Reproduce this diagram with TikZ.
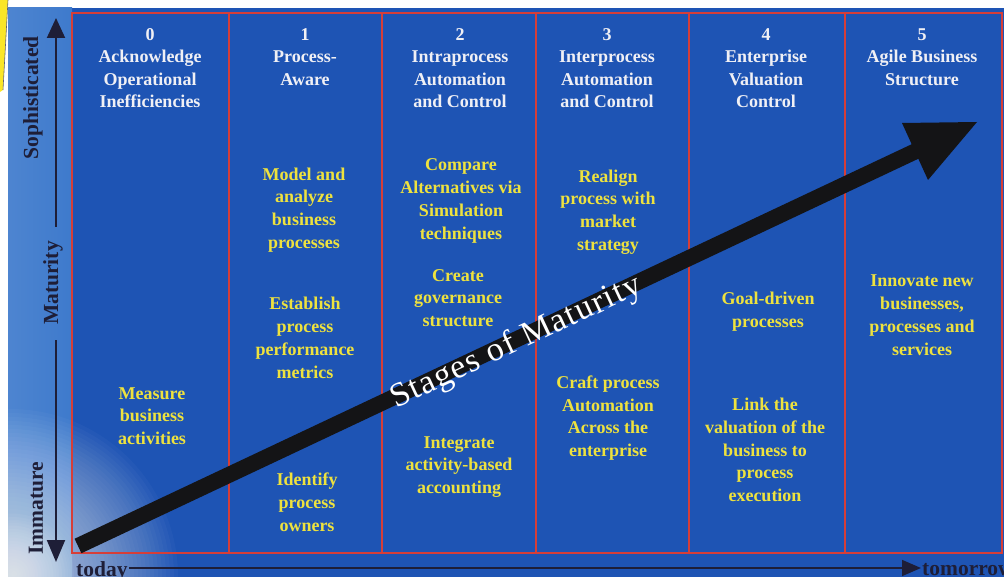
\documentclass[tikz,border=0pt]{standalone}
\usepackage{fontspec}
\setmainfont{Liberation Serif}
\usetikzlibrary{arrows.meta,calc}
\definecolor{bluebg}{RGB}{30,84,180}
\definecolor{bluelt}{RGB}{62,122,204}
\definecolor{redln}{RGB}{214,62,56}
\definecolor{ytxt}{RGB}{238,226,62}
\definecolor{htxt}{RGB}{240,240,245}
\definecolor{axtxt}{RGB}{30,30,55}
\definecolor{ystrip}{RGB}{250,230,40}
\definecolor{shaft}{RGB}{20,20,22}
\begin{document}
\begin{tikzpicture}[x=1pt,y=-1pt,
  hdr/.style={text=htxt, font=\bfseries\fontsize{18}{22.5}\selectfont, align=center, inner sep=0pt},
  ybody/.style={text=ytxt, font=\bfseries\fontsize{18}{22.8}\selectfont, align=center, inner sep=0pt},
  axlabel/.style={text=axtxt, font=\bfseries\fontsize{21.5}{24}\selectfont, inner sep=1pt},
  axline/.style={draw=axtxt, line width=2pt},
  redline/.style={draw=redln, line width=1.6pt},
  stages/.style={text=white, font=\fontsize{34}{40}\selectfont\addfontfeatures{LetterSpace=4}, inner sep=0pt}]
\useasboundingbox (0,0) rectangle (1004,577);
% background
\fill[white] (0,0) rectangle (1004,577);
\fill[ystrip] (0,0) -- (8,0) -- (3,90) -- (0,92) -- cycle;
\draw[axtxt!70, line width=0.6pt] (8,0) -- (3,90);
\fill[bluebg] (8,8) rectangle (1004,577);
\shade[left color=bluelt!92!white, right color=bluelt] (8,8) rectangle (72,577);
\begin{scope}
  \clip (8,8) rectangle (1004,577);
  \foreach \r in {4,8,...,170} \fill[white, fill opacity=0.028] (10,577) circle (\r);
  \foreach \r in {3,6,...,60} \fill[white, fill opacity=0.04] (14,574) circle (\r);
\end{scope}
% red grid
\draw[redline] (72,13) rectangle (1002,553);
\foreach \x in {229,382,536,689,845} \draw[redline] (\x,13) -- (\x,553);
% headers
\node[hdr] (h0) at (150,68) {0\\Acknowledge\\Operational\\Inefficiencies};
\node[hdr] (h1) at (305,57) {1\\Process-\\Aware};
\node[hdr] (h2) at (460,68) {2\\Intraprocess\\Automation\\and Control};
\node[hdr] (h3) at (607,68) {3\\Interprocess\\Automation\\and Control};
\node[hdr] (h4) at (766,68) {4\\Enterprise\\Valuation\\Control};
\node[hdr] (h5) at (922,57) {5\\Agile Business\\Structure};
% body
\node[ybody] (b0) at (152,416) {Measure\\business\\activities};
\node[ybody] (b1a) at (304,210) {Model and\\analyze\\business\\processes};
\node[ybody] (b1b) at (305,338) {Establish\\process\\performance\\metrics};
\node[ybody] (b1c) at (307,502) {Identify\\process\\owners};
\node[ybody] (b2a) at (461,201) {Compare\\Alternatives via\\Simulation\\techniques};
\node[ybody] (b2b) at (458,298) {Create\\governance\\structure};
\node[ybody] (b2c) at (459,467) {Integrate\\activity-based\\accounting};
\node[ybody] (b3a) at (608,212) {Realign\\process with\\market\\strategy};
\node[ybody] (b3b) at (608,418) {Craft process\\Automation\\Across the\\enterprise};
\node[ybody] (b4a) at (768,312) {Goal-driven\\processes};
\node[ybody] (b4b) at (765,450) {Link the\\valuation of the\\business to\\process\\execution};
\node[ybody] (b5) at (922,315) {Innovate new\\businesses,\\processes and\\services};
% vertical axis
\node[axlabel, rotate=90] (soph) at (33,98) {Sophisticated};
\node[axlabel, rotate=90] (mat) at (53,283) {Maturity};
\node[axlabel, rotate=90] (imm) at (36,508) {Immature};
\coordinate (vtop) at (56,18);
\coordinate (vgt) at (56,227);
\coordinate (vgb) at (56,340);
\coordinate (vbot) at (56,562);
\draw[axline, -{Triangle[width=18pt,length=20pt]}] (vgt) -- (vtop);
\draw[axline, -{Triangle[width=18pt,length=22pt]}] (vgb) -- (vbot);
% horizontal axis
\node[axlabel, anchor=base west] (today) at (75,576) {today};
\node[axlabel, anchor=base west] (tmrw) at (921,575) {tomorrow};
\draw[axline, line width=1.6pt, -{Triangle[width=16pt,length=19pt]}] (today.east |- 0,568) -- (tmrw.west |- 0,568);
% big arrow
\coordinate (tail) at (78,546);
\coordinate (hbase) at (915,151.5);
\coordinate (tip) at (977,122);
\coordinate (hl) at (902,123);
\coordinate (hr) at (928,180);
\draw[shaft, line width=16pt] (tail) -- ($(tail)!1.01!(hbase)$);
\fill[shaft] (hl) -- (tip) -- (hr) -- cycle;
\node[stages, rotate=25.2, anchor=center] (stg) at ($($(tail)!0.52!(hbase)$)+(3,2)$) {Stages of Maturity};
\end{tikzpicture}
\end{document}
